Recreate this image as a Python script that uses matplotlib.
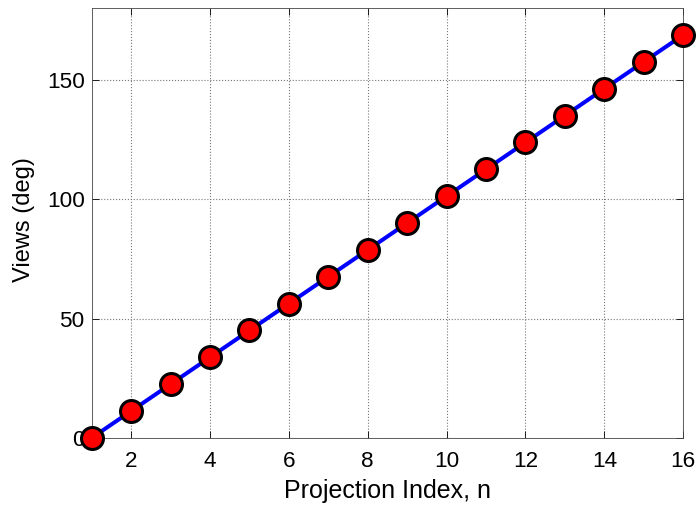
import matplotlib
matplotlib.use("Agg")
import matplotlib.pyplot as plt

# Projection index and view angle
proj_index = [1, 2, 3, 4, 5, 6, 7, 8, 9, 10, 11, 12, 13, 14, 15, 16]
views_deg = [0.0, 11.25, 22.5, 33.75, 45.0, 56.25, 67.5, 78.75,
             90.0, 101.25, 112.5, 123.75, 135.0, 146.25, 157.5, 168.75]
x_ticks = [2, 4, 6, 8, 10, 12, 14, 16]
y_ticks = [0, 50, 100, 150]

plt.rcParams["font.family"] = ["Liberation Sans", "DejaVu Sans"]

fig = plt.figure(figsize=(7.0, 5.08), dpi=100)
ax = fig.add_axes([0.131, 0.138, 0.845, 0.846])

ax.plot(proj_index, views_deg, color="#0000ff", linewidth=2.9,
        marker="o", markersize=15.8, markerfacecolor="#ff0000",
        markeredgecolor="black", markeredgewidth=2.2, zorder=3,
        clip_on=False)

ax.set_xlim(1, 16)
ax.set_ylim(0, 180)
ax.set_xticks(x_ticks)
ax.set_yticks(y_ticks)
ax.tick_params(direction="in", labelsize=16.2, length=5, width=0.6,
               top=True, right=True)
ax.tick_params(axis="x", pad=9.3)
ax.tick_params(axis="y", pad=5)
ax.grid(True, linestyle=":", color="#777777", linewidth=0.8)
for s in ax.spines.values():
    s.set_linewidth(0.6)
    s.set_color("#444444")

ax.set_xlabel("Projection Index, n", fontsize=18)
ax.set_ylabel("Views (deg)", fontsize=17)
ax.xaxis.label.set_va("baseline")
ax.yaxis.label.set_va("baseline")
ax.xaxis.set_label_coords(0.5, -0.1395)
ax.yaxis.set_label_coords(-0.105, 0.508)

fig.savefig("out.png", dpi=100)
